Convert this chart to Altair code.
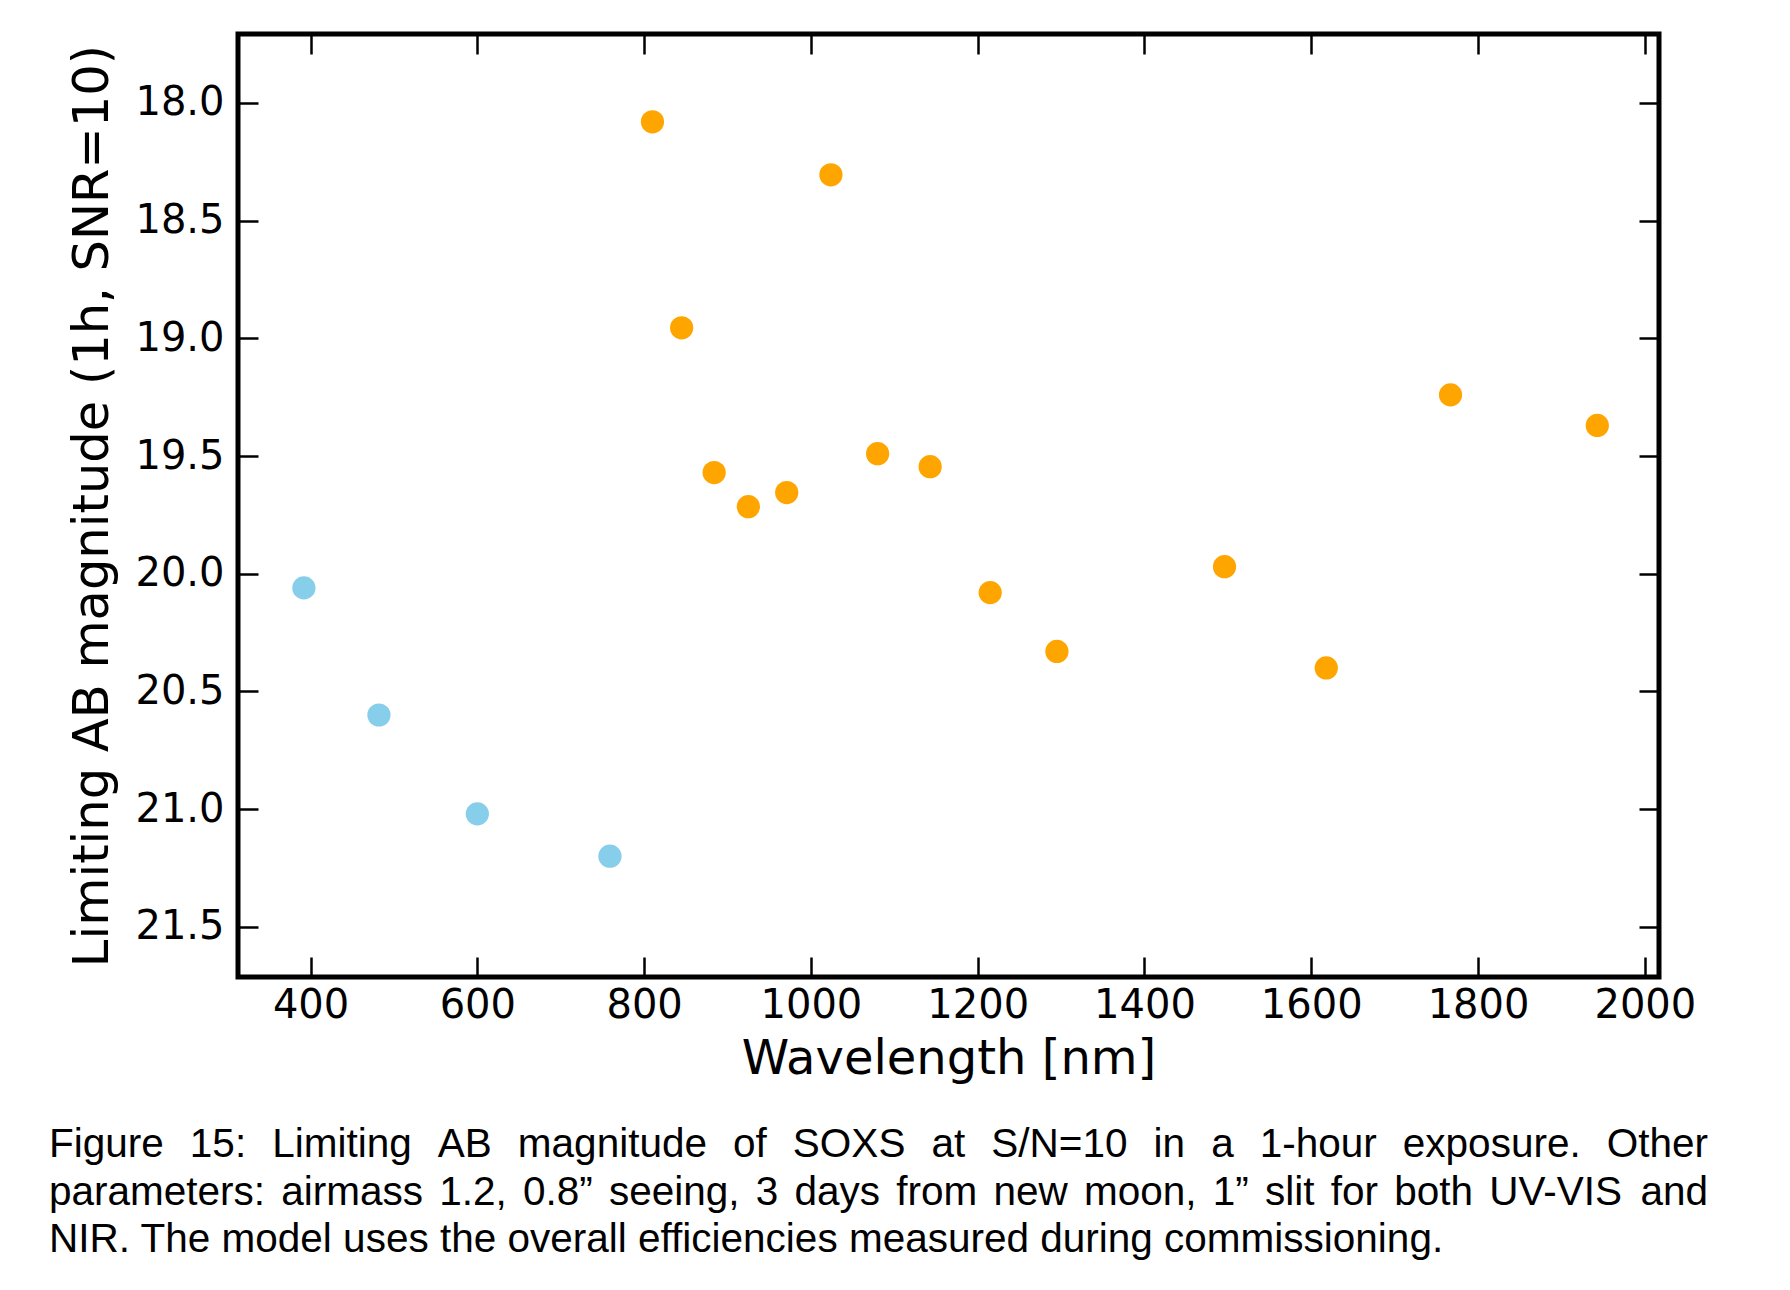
import altair as alt
import pandas as pd

# ---- data ----
uvvis_wl = [392, 482, 600, 759]
uvvis_mag = [20.06, 20.60, 21.02, 21.20]
nir_wl = [810, 845, 884, 925, 971, 1024, 1080, 1143, 1215, 1295, 1496, 1618, 1767, 1943]
nir_mag = [18.08, 18.955, 19.57, 19.715, 19.655, 18.305, 19.49, 19.545, 20.08, 20.33, 19.97, 20.40, 19.24, 19.37]
x_ticks = [400, 600, 800, 1000, 1200, 1400, 1600, 1800, 2000]
y_ticks = [18.0, 18.5, 19.0, 19.5, 20.0, 20.5, 21.0, 21.5]
caption_lines = [
    "Figure 15: Limiting AB magnitude of SOXS at S/N=10 in a 1-hour exposure. Other",
    "parameters: airmass 1.2, 0.8\u201d seeing, 3 days from new moon, 1\u201d slit for both UV-VIS and",
    "NIR. The model uses the overall efficiencies measured during commissioning.",
]

df = pd.DataFrame({
    "wl": uvvis_wl + nir_wl,
    "mag": uvvis_mag + nir_mag,
    "arm": ["UV-VIS"] * len(uvvis_wl) + ["NIR"] * len(nir_wl),
})

W, H = 1421, 943

# ---- caption layout (justified like the paper) ----
ARIAL = {
    " ": 278, "\u201d": 333, ",": 278, "-": 333, ".": 278, "/": 278, ":": 278, "=": 584,
    "A": 667, "B": 667, "C": 722, "D": 722, "E": 667, "F": 611, "G": 778, "H": 722, "I": 278,
    "J": 500, "K": 667, "L": 556, "M": 833, "N": 722, "O": 778, "P": 667, "Q": 778, "R": 722,
    "S": 667, "T": 611, "U": 722, "V": 667, "W": 944, "X": 667, "Y": 667, "Z": 611,
    "a": 556, "b": 556, "c": 500, "d": 556, "e": 556, "f": 278, "g": 556, "h": 556, "i": 222,
    "j": 222, "k": 500, "l": 222, "m": 833, "n": 556, "o": 556, "p": 556, "q": 556, "r": 333,
    "s": 500, "t": 278, "u": 556, "v": 500, "w": 722, "x": 500, "y": 500, "z": 500,
}
CAP_FS = 40.5
CAP_LEFT, CAP_RIGHT = -189, 1470
CAP_BASE = [1123, 1171, 1218]


def text_w(s):
    return sum(ARIAL.get(c, 556) for c in s) / 1000.0 * CAP_FS


rows = []
for i, line in enumerate(caption_lines):
    if i < len(caption_lines) - 1:
        words = line.split(" ")
        total = sum(text_w(w) for w in words)
        gap = (CAP_RIGHT - CAP_LEFT - total) / (len(words) - 1)
        x = CAP_LEFT
        for w in words:
            rows.append({"t": w, "px": x, "py": CAP_BASE[i]})
            x += text_w(w) + gap
    else:
        rows.append({"t": line, "px": CAP_LEFT, "py": CAP_BASE[i]})
cap_df = pd.DataFrame(rows)

xscale = alt.Scale(domain=[313, 2017], nice=False, zero=False)
yscale = alt.Scale(domain=[17.707, 21.713], reverse=True, nice=False, zero=False)

common = dict(
    offset=-20, tickSize=20, tickWidth=2.5, tickColor="black", domain=False, grid=False,
    labelFont="DejaVu Sans", labelFontSize=40, labelColor="black",
    titleFont="DejaVu Sans", titleColor="black", titleFontWeight="normal",
)

points = alt.Chart(df).mark_circle(size=540, opacity=1).encode(
    x=alt.X("wl:Q", scale=xscale, title="Wavelength [nm]",
            axis=alt.Axis(orient="bottom", values=x_ticks, format="d", labelPadding=8,
                          labelFlush=False, labelOverlap=False, titleFontSize=48,
                          titleBaseline="alphabetic", titleY=116, titleX=W / 2,
                          titleAlign="center", **common)),
    y=alt.Y("mag:Q", scale=yscale, title="Limiting AB magnitude (1h, SNR=10)",
            axis=alt.Axis(orient="left", values=y_ticks, format=".1f", labelPadding=14,
                          labelFlush=False, labelOverlap=False, titleFontSize=49.5,
                          titleBaseline="alphabetic", titleX=-151, titleY=H / 2,
                          titleAlign="center", **common)),
    color=alt.Color("arm:N", scale=alt.Scale(domain=["UV-VIS", "NIR"],
                                             range=["#87CEEB", "#FFA500"]), legend=None),
)

mirror = alt.Chart(df).mark_circle(opacity=0).encode(
    x=alt.X("wl:Q", scale=xscale, title="",
            axis=alt.Axis(orient="top", values=x_ticks, labels=False, **common)),
    y=alt.Y("mag:Q", scale=yscale, title="",
            axis=alt.Axis(orient="right", values=y_ticks, labels=False, **common)),
)

caption = alt.Chart(cap_df).mark_text(
    align="left", baseline="alphabetic", font="Liberation Sans", fontSize=CAP_FS, color="black"
).encode(
    x=alt.X("px:Q", scale=None, axis=None),
    y=alt.Y("py:Q", scale=None, axis=None),
    text="t:N",
)

chart = alt.layer(points, mirror, caption).resolve_axis(
    x="independent", y="independent"
).properties(
    width=W, height=H,
    autosize=alt.AutoSizeParams(type="none"),
    padding={"left": 230, "top": 26, "right": 110, "bottom": 290},
    background="white",
).configure_view(stroke="black", strokeWidth=5)

chart.save("out.html", embed_options={"renderer": "svg", "actions": False})
